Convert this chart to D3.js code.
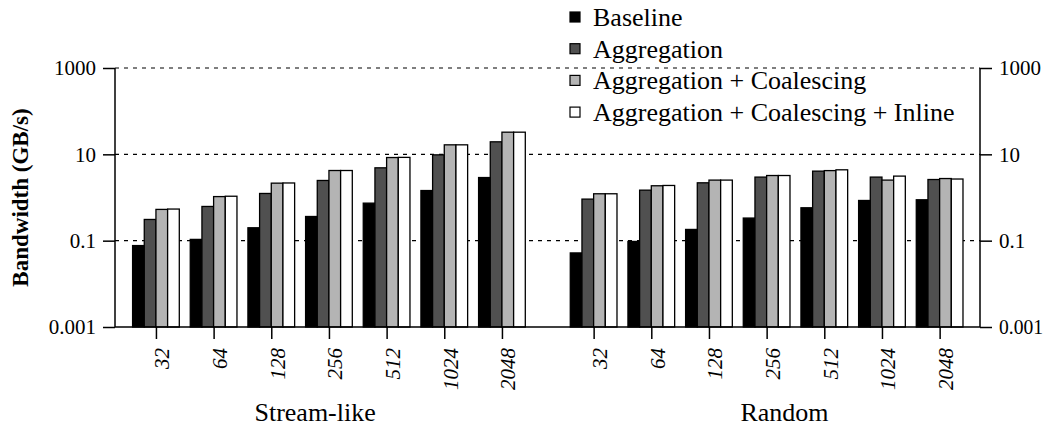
<!DOCTYPE html>
<html>
<head>
<meta charset="utf-8">
<script src="https://cdn.jsdelivr.net/npm/d3@7"></script>
<style>
  body { margin: 0; background: #fff; }
</style>
</head>
<body>
<div id="chart"></div>
<script>
// Data (GB/s, log axis)
const sizes = ["32", "64", "128", "256", "512", "1024", "2048"];
const groups = ["Stream-like", "Random"];
const series = ["Baseline", "Aggregation", "Aggregation + Coalescing", "Aggregation + Coalescing + Inline"];
const colors = ["#000000", "#505050", "#b4b4b4", "#ffffff"];

const streamBaseline    = [0.077, 0.107, 0.199, 0.363, 0.74, 1.45, 2.9];
const streamAggregation = [0.31, 0.62, 1.24, 2.48, 4.87, 9.73, 19.5];
const streamCoalescing  = [0.53, 1.05, 2.15, 4.22, 8.43, 16.6, 32.6];
const streamInline      = [0.54, 1.07, 2.17, 4.22, 8.5, 16.6, 32.6];

const randomBaseline    = [0.052, 0.096, 0.182, 0.334, 0.578, 0.853, 0.886];
const randomAggregation = [0.918, 1.48, 2.19, 2.97, 4.08, 2.97, 2.61];
const randomCoalescing  = [1.22, 1.87, 2.53, 3.23, 4.2, 2.53, 2.75];
const randomInline      = [1.22, 1.9, 2.53, 3.23, 4.38, 3.13, 2.68];

const yTicks = [0.001, 0.1, 10, 1000];
const yTickLabels = ["0.001", "0.1", "10", "1000"];

const groupValues = [
    [streamBaseline, streamAggregation, streamCoalescing, streamInline],
    [randomBaseline, randomAggregation, randomCoalescing, randomInline]
];

const width = 1045;
const height = 430;
const plotL = 115, plotR = 980, plotT = 68, plotB = 327;
const serif = "Liberation Serif, DejaVu Serif, Noto Serif, Times New Roman, Times, serif";

// position of a cluster along the x axis (second group shifted by a gap)
const groupStart = [0, 7.59];
const barW = 0.2025;

const x = d3.scaleLinear().domain([-0.71, 14.29]).range([plotL, plotR]);
const y = d3.scaleLog().domain([0.001, 1000]).range([plotB, plotT]);

const svg = d3.select("#chart")
    .append("svg")
    .attr("width", width)
    .attr("height", height)
    .style("display", "block");

// dotted gridlines
svg.append("g")
    .selectAll("line")
    .data(yTicks.slice(1))
    .join("line")
    .attr("x1", plotL)
    .attr("x2", plotR)
    .attr("y1", d => y(d))
    .attr("y2", d => y(d))
    .attr("stroke", "#000")
    .attr("stroke-width", 1.2)
    .attr("stroke-dasharray", "4,5");

// bars
groupValues.forEach((vals, g) => {
    vals.forEach((arr, s) => {
        svg.append("g")
            .selectAll("rect")
            .data(arr)
            .join("rect")
            .attr("x", (d, i) => x(groupStart[g] + i + (s - 2) * barW))
            .attr("width", x(barW) - x(0))
            .attr("y", d => y(d))
            .attr("height", d => y(0.001) - y(d))
            .attr("fill", colors[s])
            .attr("stroke", "#000")
            .attr("stroke-width", 1.3);
    });
});

// axes
const fmt = d => yTickLabels[yTicks.indexOf(d)];

const yLeft = svg.append("g")
    .attr("transform", `translate(${plotL},0)`)
    .call(d3.axisLeft(y).tickValues(yTicks).tickFormat(fmt).tickSize(12).tickPadding(7));
const yRight = svg.append("g")
    .attr("transform", `translate(${plotR},0)`)
    .call(d3.axisRight(y).tickValues(yTicks).tickFormat(fmt).tickSize(12).tickPadding(7));

const tickPos = [];
groupStart.forEach(g => sizes.forEach((s, i) => tickPos.push(g + i)));
const xAxis = svg.append("g")
    .attr("transform", `translate(0,${plotB})`)
    .call(d3.axisBottom(x).tickValues(tickPos).tickFormat((d, i) => sizes[i % sizes.length]).tickSize(12).tickSizeOuter(0));

[yLeft, yRight, xAxis].forEach(a => {
    a.attr("font-family", serif).attr("font-size", 21);
    a.select(".domain").attr("stroke-width", 1.5);
    a.selectAll(".tick line").attr("stroke-width", 1.5);
    a.selectAll("text").attr("fill", "#000");
});
yLeft.select(".domain").attr("d", `M-0,${plotT}V${plotB}`);
yRight.select(".domain").attr("d", `M0,${plotT}V${plotB}`);
xAxis.select(".domain").attr("d", `M${plotL},0H${plotR}`);

// keep the right-hand labels inside the page
yRight.selectAll(".tick text").attr("textLength", function () {
    return Math.min(this.getComputedTextLength(), 44);
}).attr("lengthAdjust", "spacingAndGlyphs");

// rotated italic size labels
xAxis.selectAll(".tick text")
    .attr("font-style", "italic")
    .attr("text-anchor", "end")
    .attr("transform", "translate(0,21) rotate(-90)")
    .attr("x", 0)
    .attr("y", 13)
    .attr("dy", 0);

// group labels
const groupLabelPos = [2.76, 10.9];
svg.append("g")
    .selectAll("text")
    .data(groups)
    .join("text")
    .attr("x", (d, i) => x(groupLabelPos[i]))
    .attr("y", 421)
    .attr("text-anchor", "middle")
    .attr("font-family", serif)
    .attr("font-size", 26)
    .text(d => d);

// y axis title
svg.append("text")
    .attr("transform", `translate(28,${(plotT + plotB) / 2}) rotate(-90)`)
    .attr("text-anchor", "middle")
    .attr("font-family", serif)
    .attr("font-size", 23)
    .attr("font-weight", "bold")
    .text("Bandwidth (GB/s)");

// legend
const legend = svg.append("g").attr("transform", "translate(570,0)");
series.forEach((name, i) => {
    const cy = 17 + i * 31.7;
    legend.append("rect")
        .attr("x", 0)
        .attr("y", cy - 5)
        .attr("width", 10)
        .attr("height", 10)
        .attr("fill", colors[i])
        .attr("stroke", "#000")
        .attr("stroke-width", 1.2);
    legend.append("text")
        .attr("x", 23)
        .attr("y", cy + 9)
        .attr("font-family", serif)
        .attr("font-size", 26)
        .text(name);
});
</script>
</body>
</html>
